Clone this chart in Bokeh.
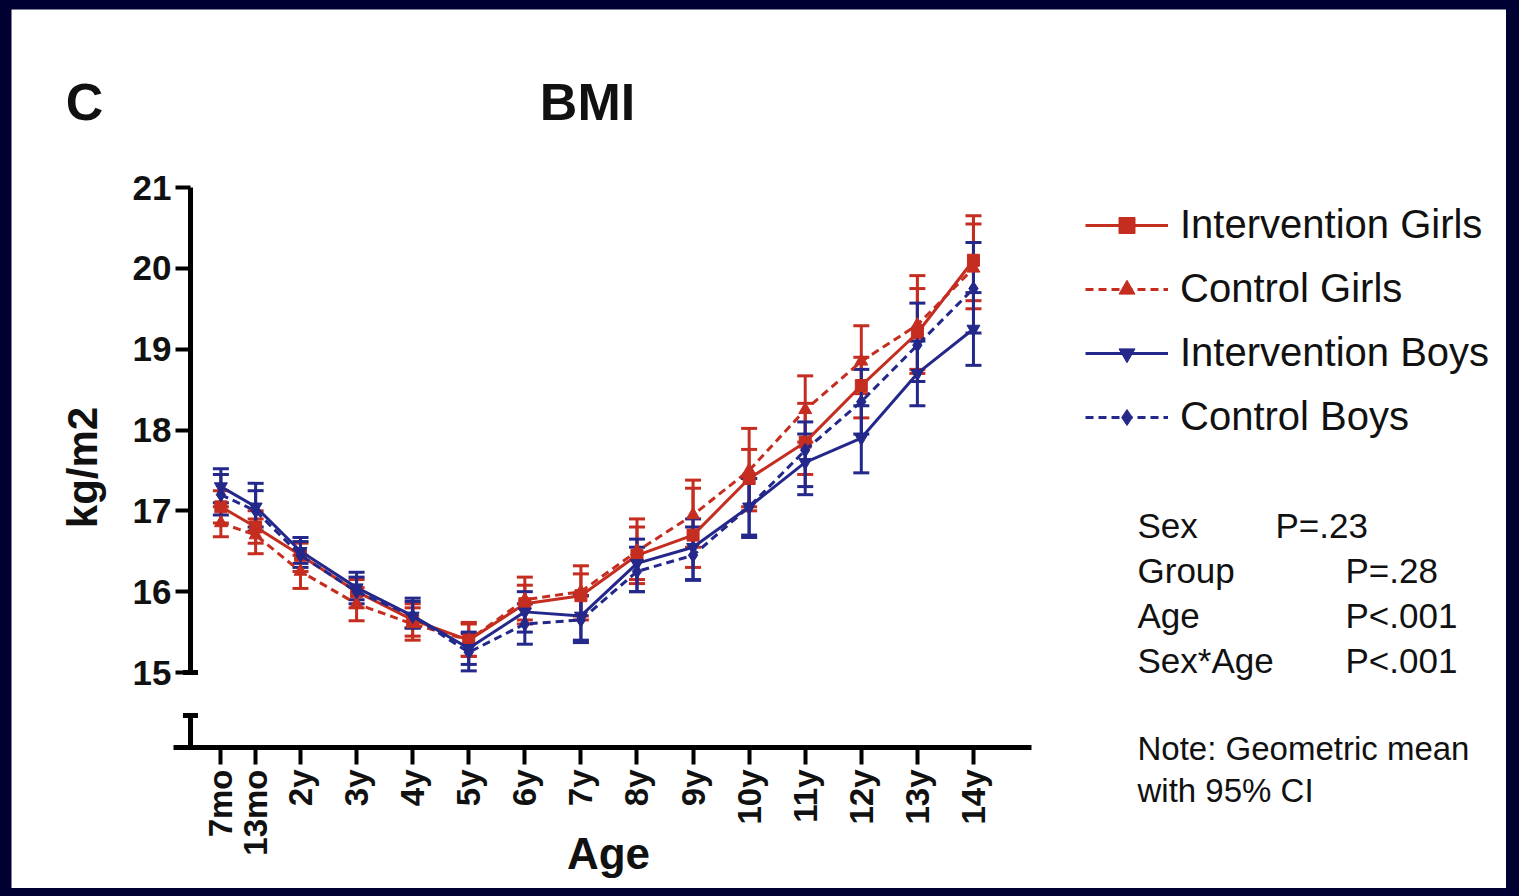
import math
from bokeh.plotting import figure
from bokeh.models import (ColumnDataSource, Whisker, TeeHead, Label, Legend, LegendItem,
                          FixedTicker, Range1d)
from bokeh.layouts import column
from bokeh.embed import file_html
from bokeh.resources import INLINE

# ---------------- data ----------------
ages = [0.58, 1.2, 2, 3, 4, 5, 6, 7, 8, 9, 10, 11, 12, 13, 14]
age_labels = ["7mo", "13mo", "2y", "3y", "4y", "5y", "6y", "7y", "8y", "9y",
              "10y", "11y", "12y", "13y", "14y"]

ig_mean = [17.05, 16.80, 16.45, 16.00, 15.65, 15.40, 15.85, 15.95, 16.45, 16.70, 17.40, 17.85, 18.55, 19.20, 20.10]
ig_lo   = [16.85, 16.60, 16.25, 15.80, 15.45, 15.20, 15.60, 15.65, 16.10, 16.30, 17.00, 17.45, 18.15, 18.70, 19.60]
ig_hi   = [17.25, 17.00, 16.60, 16.15, 15.85, 15.60, 16.08, 16.22, 16.80, 17.28, 17.76, 18.33, 18.90, 19.75, 20.65]

cg_mean = [16.85, 16.70, 16.25, 15.85, 15.60, 15.40, 15.90, 16.00, 16.50, 16.95, 17.50, 18.25, 18.85, 19.30, 20.00]
cg_lo   = [16.68, 16.47, 16.04, 15.64, 15.40, 15.20, 15.65, 15.70, 16.15, 16.55, 17.05, 17.85, 18.45, 18.75, 19.50]
cg_hi   = [17.05, 16.90, 16.45, 16.05, 15.80, 15.62, 16.18, 16.32, 16.90, 17.38, 18.02, 18.67, 19.29, 19.91, 20.55]

ib_mean = [17.30, 17.05, 16.50, 16.05, 15.70, 15.30, 15.75, 15.70, 16.35, 16.55, 17.05, 17.60, 17.90, 18.70, 19.25]
ib_lo   = [17.10, 16.80, 16.35, 15.90, 15.55, 15.10, 15.50, 15.40, 16.00, 16.15, 16.67, 17.20, 17.47, 18.30, 18.80]
ib_hi   = [17.52, 17.34, 16.67, 16.24, 15.92, 15.50, 16.00, 15.95, 16.65, 16.90, 17.40, 17.95, 18.30, 19.10, 19.70]

cb_mean = [17.20, 17.00, 16.45, 16.00, 15.70, 15.25, 15.60, 15.65, 16.25, 16.45, 17.05, 17.75, 18.35, 19.05, 19.75]
cb_lo   = [16.95, 16.75, 16.30, 15.85, 15.55, 15.02, 15.35, 15.37, 16.00, 16.14, 16.70, 17.30, 17.95, 18.60, 19.20]
cb_hi   = [17.45, 17.25, 16.62, 16.18, 15.88, 15.48, 15.85, 15.95, 16.55, 16.80, 17.40, 18.10, 18.75, 19.57, 20.32]

y_ticks = [15, 16, 17, 18, 19, 20, 21]

series_names = ["Intervention Girls", "Control Girls", "Intervention Boys", "Control Boys"]
stat_names = ["Sex", "Group", "Age", "Sex*Age"]
stat_p = ["P=.23", "P=.28", "P<.001", "P<.001"]
note_lines = ["Note: Geometric mean", "with 95% CI"]

# ---------------- style / geometry ----------------
RED = "#c42d1f"
BLUE = "#23288a"
NAVY = "#000033"
INK = "#111111"
FONT = "Liberation Sans"

FIG_L, FIG_T = 11, 9          # page position of the white panel
FIG_W, FIG_H = 1495, 879
AX_L, AX_R, AX_B = 173, 1031, 747   # page px of the x axis line
Y_AX_X = 190                        # page px of the y axis line

# calibration of the axes (page px)
X0_PX, X0_VAL, X_PPU = 300.0, 2.0, 56.08
Y0_PX, Y0_VAL, Y_PPU = 672.0, 15.0, 80.83

def xd(px):
    return X0_VAL + (px - X0_PX) / X_PPU

def yd(py):
    return Y0_VAL + (Y0_PX - py) / Y_PPU

# the frame covers the whole white panel; axes sit at fixed locations inside it
p = figure(width=FIG_W, height=FIG_H,
           x_range=Range1d(xd(FIG_L), xd(FIG_L + FIG_W)),
           y_range=Range1d(yd(FIG_T + FIG_H), yd(FIG_T)),
           output_backend="svg", toolbar_location=None,
           min_border=0)
p.title.visible = False
p.margin = (FIG_T, 1519 - FIG_L - FIG_W, 896 - FIG_T - FIG_H, FIG_L)
p.outline_line_color = None
p.grid.visible = False
p.background_fill_color = "white"
p.border_fill_color = "white"

# x axis
xa = p.xaxis[0]
xa.fixed_location = yd(AX_B)
xa.bounds = (xd(AX_L), xd(AX_R))
xa.ticker = FixedTicker(ticks=ages)
xa.major_label_overrides = {float(a): l for a, l in zip(ages, age_labels)}
xa.major_label_orientation = math.pi / 2
xa.axis_line_width = 5
xa.axis_line_color = "black"
xa.major_tick_line_width = 4
xa.major_tick_out = 17
xa.major_tick_in = 0
xa.minor_tick_line_color = None
xa.major_label_text_font = FONT
xa.major_label_text_font_style = "bold"
xa.major_label_text_font_size = "33px"
xa.major_label_text_color = INK
xa.major_label_standoff = 5

# y axis
ya = p.yaxis[0]
ya.fixed_location = xd(Y_AX_X)
ya.ticker = FixedTicker(ticks=y_ticks)
ya.bounds = (y_ticks[0], y_ticks[-1])
ya.axis_line_width = 5
ya.axis_line_color = "black"
ya.major_tick_line_width = 4
ya.major_tick_out = 15
ya.major_tick_in = 0
ya.minor_tick_line_color = None
ya.major_label_text_font = FONT
ya.major_label_text_font_style = "bold"
ya.major_label_text_font_size = "35px"
ya.major_label_text_color = INK
ya.major_label_standoff = 4

# broken-axis stub below 15
p.segment(x0=[xd(Y_AX_X)], y0=[yd(AX_B)], x1=[xd(Y_AX_X)], y1=[yd(715)],
          line_width=5, line_color="black")
p.scatter(x=[xd(Y_AX_X), xd(Y_AX_X)], y=[yd(715), y_ticks[0]], marker="dash",
          size=15, line_width=5, line_color="black")

# ---------------- series ----------------
specs = [
    (series_names[0], ig_mean, ig_lo, ig_hi, RED, "solid", "square", 12),
    (series_names[1], cg_mean, cg_lo, cg_hi, RED, "8 5", "triangle", 13),
    (series_names[2], ib_mean, ib_lo, ib_hi, BLUE, "solid", "inverted_triangle", 13),
    (series_names[3], cb_mean, cb_lo, cb_hi, BLUE, "8 5", "diamond", 14),
]

items = []
for name, m, lo, hi, col, dash, mk, sz in specs:
    src = ColumnDataSource(dict(x=ages, y=m, lo=lo, hi=hi))
    w = Whisker(source=src, base="x", lower="lo", upper="hi",
                line_color=col, line_width=3,
                upper_head=TeeHead(size=16, line_color=col, line_width=3),
                lower_head=TeeHead(size=16, line_color=col, line_width=3))
    p.add_layout(w)
    ln = p.line("x", "y", source=src, line_color=col, line_width=3, line_dash=dash)
    sc = p.scatter("x", "y", source=src, marker=mk, size=sz,
                   fill_color=col, line_color=col)
    items.append(LegendItem(label=name, renderers=[ln, sc]))

legend = Legend(items=items, location=(1085 - FIG_L, (FIG_T + FIG_H) - 439),
                glyph_width=83, glyph_height=40, label_height=40,
                spacing=19, label_standoff=12, padding=0, margin=0,
                border_line_color=None, background_fill_alpha=0,
                label_text_font=FONT, label_text_font_size="40px",
                label_text_color=INK)
p.add_layout(legend, "center")

# ---------------- texts ----------------
def add_text(txt, px, py, size, bold=False, align="left", angle=0.0):
    p.add_layout(Label(x=xd(px), y=yd(py), text=txt, text_font=FONT,
                       text_font_size=f"{size}px",
                       text_font_style="bold" if bold else "normal",
                       text_align=align, text_baseline="middle",
                       angle=angle, text_color=INK))

add_text("C", 84, 101, 52, bold=True, align="center")
add_text("BMI", 587, 101, 52, bold=True, align="center")
add_text("kg/m2", 82, 467, 42, bold=True, align="center", angle=math.pi / 2)
add_text("Age", 608, 853, 44, bold=True, align="center")

stat_rows = [525, 570, 615, 660]
stat_px = [1275, 1345, 1345, 1345]
for nm, pv, ry, vx in zip(stat_names, stat_p, stat_rows, stat_px):
    add_text(nm, 1137, ry, 35)
    add_text(pv, vx, ry, 35)

for t, ry in zip(note_lines, [748, 790]):
    add_text(t, 1137, ry, 33)

root = column(p, styles={"background-color": NAVY})
open("out.html", "w").write(file_html(root, INLINE))
